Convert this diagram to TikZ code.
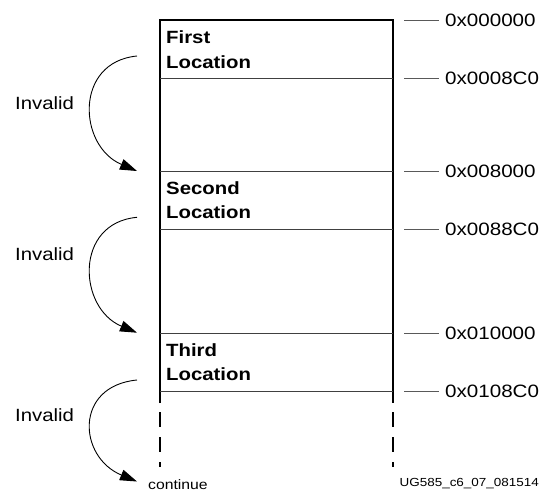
\documentclass[tikz,border=0pt]{standalone}
\usepackage{fontspec}
\setmainfont{Liberation Sans}[FakeStretch=1.15]
\usetikzlibrary{arrows.meta}
\begin{document}
\begin{tikzpicture}[x=1pt,y=-1pt,
  boxline/.style={line width=1.3pt,black},
  divline/.style={line width=0.9pt,black!75},
  tickline/.style={line width=0.9pt,black!65},
  dashside/.style={line width=1.3pt,black,dash pattern=on 15pt off 10pt},
  addr/.style={anchor=west,inner sep=0pt,font=\fontsize{17.9}{20}\selectfont},
  loc/.style={anchor=base west,inner sep=0pt,font=\fontsize{17.7}{20}\selectfont\bfseries},
  inv/.style={anchor=base west,inner sep=0pt,font=\fontsize{17.7}{20}\selectfont},
  jump/.style={line width=0.9pt,black,-{Triangle[length=17pt,width=11pt]}}]
\useasboundingbox (0,0) rectangle (540,491);
% box outline
\coordinate (bl) at (160,403);
\coordinate (tl) at (160,20);
\coordinate (tr) at (393,20);
\coordinate (br) at (393,403);
\draw[boxline] (bl) -- (tl) -- (tr) -- (br);
\coordinate (dl1) at (160,412);
\coordinate (dl2) at (160,467);
\coordinate (dr1) at (393,412);
\coordinate (dr2) at (393,467);
\draw[dashside] (dl1) -- (dl2);
\draw[dashside] (dr1) -- (dr2);
% divider lines
\foreach \n/\y in {a/78,b/171,c/229,d/333,e/391}{
  \coordinate (L\n) at (160,\y);
  \coordinate (R\n) at (393,\y);
  \draw[divline] (L\n) -- (R\n);
}
% address labels
\foreach \n/\y/\t in {z/20/0x000000,a/78/0x0008C0,b/171/0x008000,c/229/0x0088C0,d/333/0x010000,e/391/0x0108C0}{
  \node[addr] (A\n) at (445,\y) {\t};
  \coordinate (T\n) at (404,\y);
  \draw[tickline] (T\n) -- ([xshift=-6pt]A\n.west);
}
% location texts
\node[loc] (f1) at (166,43.3) {First};
\node[loc] (f2) at (166,68.3) {Location};
\node[loc] (s1) at (166,194) {Second};
\node[loc] (s2) at (166,218.3) {Location};
\node[loc] (t1) at (166,356.7) {Third};
\node[loc] (t2) at (166,380.5) {Location};
% invalid labels
\node[inv] (i1) at (15,109.3) {Invalid};
\node[inv] (i2) at (15,260.7) {Invalid};
\node[inv] (i3) at (15,421.7) {Invalid};
% jump arrows
\coordinate (s1a) at (137,56);
\coordinate (e1a) at (137,171);
\coordinate (s2a) at (137,217.3);
\coordinate (e2a) at (137,332.7);
\coordinate (s3a) at (137,380);
\coordinate (e3a) at (137,481.5);
\draw[jump] (s1a) .. controls (74,62) and (78,146) .. (e1a);
\draw[jump] (s2a) .. controls (74,223) and (78,308) .. (e2a);
\draw[jump] (s3a) .. controls (74,386) and (78,457) .. (e3a);
\node[anchor=base west,inner sep=0pt,font=\fontsize{13.7}{15}\selectfont] (cont) at (148,489.5) {continue};
\node[anchor=base east,inner sep=0pt,font=\fontsize{11.7}{13}\selectfont] (ug) at (539,486) {UG585\_c6\_07\_081514};
\end{tikzpicture}
\end{document}
